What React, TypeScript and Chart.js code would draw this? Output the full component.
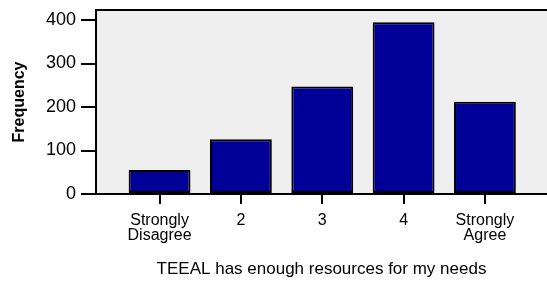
import React, { useEffect, useRef } from "react";
import { Chart, registerables } from "chart.js";

Chart.register(...registerables);

const categories: (string | string[])[] = [
  ["Strongly", "Disagree"],
  "2",
  "3",
  "4",
  ["Strongly", "Agree"],
];
const frequencies: number[] = [55, 126, 247, 395, 212];
const yTickValues: number[] = [0, 100, 200, 300, 400];
const xTitle = "TEEAL has enough resources for my needs";
const yTitle = "Frequency";

const FONT = "'Liberation Sans', Arial, Helvetica, sans-serif";

const plotFrame = {
  id: "plotFrame",
  beforeDraw(chart: any) {
    const { ctx, chartArea } = chart;
    ctx.save();
    ctx.fillStyle = "#efefef";
    ctx.fillRect(chartArea.left, chartArea.top, chartArea.right - chartArea.left, chartArea.bottom - chartArea.top);
    ctx.restore();
  },
  afterDraw(chart: any) {
    const { ctx, chartArea } = chart;
    ctx.save();
    ctx.strokeStyle = "#000";
    ctx.lineWidth = 2;
    ctx.beginPath();
    ctx.moveTo(chartArea.left - 1, chartArea.top);
    ctx.lineTo(chartArea.right, chartArea.top);
    ctx.stroke();
    ctx.restore();
  },
};

export default function App() {
  const ref = useRef<HTMLCanvasElement>(null);
  useEffect(() => {
    document.body.style.margin = "0";
    const chart = new Chart(ref.current!, {
      type: "bar",
      data: {
        datasets: [
          {
            data: frequencies.map((v, i) => ({ x: i, y: v })),
            backgroundColor: "#000099",
            borderColor: "#000000",
            borderWidth: 2,
            borderSkipped: false,
            barPercentage: 0.76,
            categoryPercentage: 1,
          },
        ],
      },
      options: {
        animation: false,
        responsive: true,
        maintainAspectRatio: false,
        layout: { padding: { top: 10, right: 0, bottom: 0, left: 0 } },
        plugins: { legend: { display: false }, tooltip: { enabled: false } },
        scales: {
          x: {
            type: "linear",
            offset: false,
            min: -0.7815,
            max: 4.763,
            afterBuildTicks: (scale: any) => {
              scale.ticks = categories.map((_, i) => ({ value: i }));
            },
            afterFit: (scale: any) => {
              scale.height = 90;
              scale.paddingLeft = 0;
              scale.paddingRight = 0;
            },
            ticks: {
              autoSkip: false,
              maxRotation: 0,
              minRotation: 0,
              padding: 9,
              color: "#000",
              font: { family: FONT, size: 16, lineHeight: 0.95 },
              callback: (v: any) => categories[v] as any,
            },
            grid: {
              offset: false,
              drawOnChartArea: false,
              drawTicks: true,
              tickLength: 10,
              color: "#000",
              lineWidth: 2,
            },
            border: { display: true, color: "#000", width: 2 },
            title: {
              display: true,
              text: xTitle,
              color: "#000",
              font: { family: FONT, size: 17 },
              padding: { top: 0, bottom: 4 },
            },
          },
          y: {
            min: 0,
            max: 423,
            afterBuildTicks: (scale: any) => {
              scale.ticks = yTickValues.map((v) => ({ value: v }));
            },
            afterFit: (scale: any) => {
              scale.width = 96;
              scale.paddingTop = 0;
              scale.paddingBottom = 0;
            },
            ticks: {
              padding: 5,
              color: "#000",
              font: { family: FONT, size: 18 },
            },
            grid: {
              drawOnChartArea: false,
              drawTicks: true,
              tickLength: 15,
              color: "#000",
              lineWidth: 2,
            },
            border: { display: true, color: "#000", width: 2 },
            title: {
              display: true,
              text: yTitle,
              color: "#000",
              font: { family: FONT, size: 16, weight: "bold" },
              padding: { top: 10, bottom: 0 },
            },
          },
        },
      },
      plugins: [plotFrame],
    } as any);
    return () => chart.destroy();
  }, []);
  return (
    <div style={{ position: "relative", width: 547, height: 284 }}>
      <canvas ref={ref} />
    </div>
  );
}
